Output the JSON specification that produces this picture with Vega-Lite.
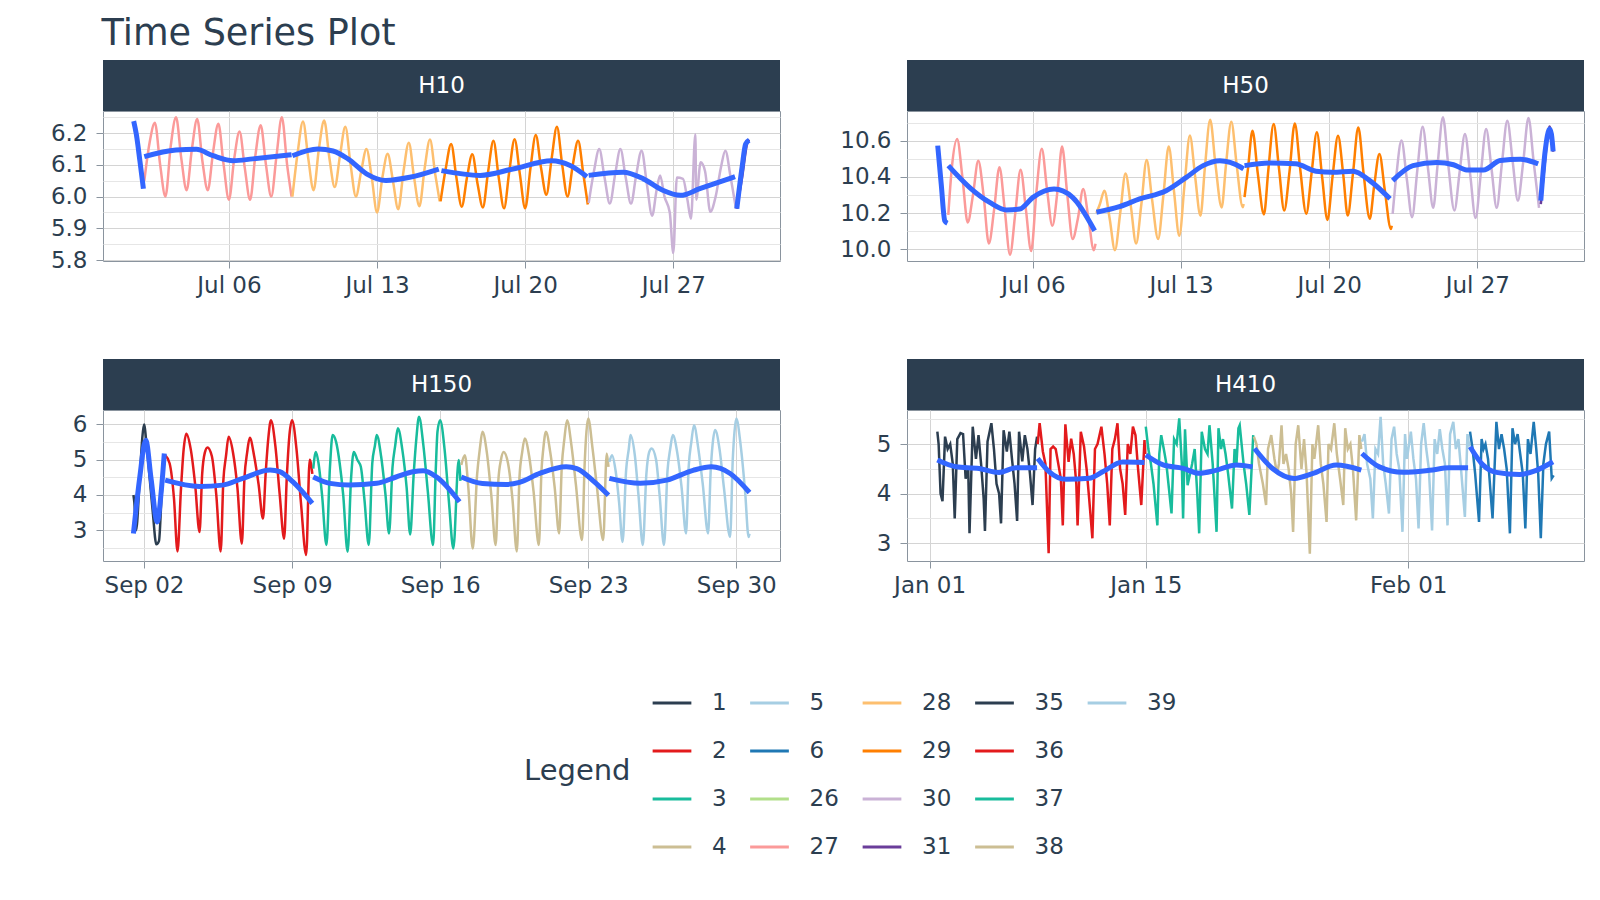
{
"$schema":"https://vega.github.io/schema/vega-lite/v6.json",
"padding":{"left":49,"top":16,"right":5,"bottom":5},
"title":{"text":"Time Series Plot","anchor":"start","fontSize":36.6,"fontWeight":"normal","color":"#2C3E50","dx":52,"offset":7},
"datasets":{
"d10":[
{"t":"2015-07-01T12:00","v":6.23,"g":"26"},{"t":"2015-07-01T18:00","v":6.13,"g":"26"},{"t":"2015-07-01T23:00","v":6.03,"g":"26"},
{"t":"2015-07-02T00:00","v":6.05,"g":"27"},{"t":"2015-07-02T06:00","v":6.17,"g":"27"},{"t":"2015-07-02T12:00","v":6.233,"g":"27"},{"t":"2015-07-02T18:00","v":6.10,"g":"27"},
{"t":"2015-07-03T00:00","v":6.00,"g":"27"},{"t":"2015-07-03T06:00","v":6.16,"g":"27"},{"t":"2015-07-03T12:00","v":6.25,"g":"27"},{"t":"2015-07-03T18:00","v":6.12,"g":"27"},
{"t":"2015-07-04T00:00","v":6.02,"g":"27"},{"t":"2015-07-04T06:00","v":6.15,"g":"27"},{"t":"2015-07-04T12:00","v":6.245,"g":"27"},{"t":"2015-07-04T18:00","v":6.11,"g":"27"},
{"t":"2015-07-05T00:00","v":6.02,"g":"27"},{"t":"2015-07-05T06:00","v":6.14,"g":"27"},{"t":"2015-07-05T12:00","v":6.23,"g":"27"},{"t":"2015-07-05T18:00","v":6.10,"g":"27"},
{"t":"2015-07-06T00:00","v":5.99,"g":"27"},{"t":"2015-07-06T06:00","v":6.12,"g":"27"},{"t":"2015-07-06T12:00","v":6.205,"g":"27"},{"t":"2015-07-06T18:00","v":6.09,"g":"27"},
{"t":"2015-07-07T00:00","v":5.99,"g":"27"},{"t":"2015-07-07T06:00","v":6.13,"g":"27"},{"t":"2015-07-07T12:00","v":6.225,"g":"27"},{"t":"2015-07-07T18:00","v":6.10,"g":"27"},
{"t":"2015-07-08T00:00","v":6.00,"g":"27"},{"t":"2015-07-08T06:00","v":6.13,"g":"27"},{"t":"2015-07-08T12:00","v":6.25,"g":"27"},{"t":"2015-07-08T18:00","v":6.10,"g":"27"},{"t":"2015-07-08T23:00","v":6.00,"g":"27"},
{"t":"2015-07-09T00:00","v":6.00,"g":"28"},{"t":"2015-07-09T06:00","v":6.14,"g":"28"},{"t":"2015-07-09T12:00","v":6.237,"g":"28"},{"t":"2015-07-09T18:00","v":6.12,"g":"28"},
{"t":"2015-07-10T00:00","v":6.02,"g":"28"},{"t":"2015-07-10T06:00","v":6.15,"g":"28"},{"t":"2015-07-10T12:00","v":6.24,"g":"28"},{"t":"2015-07-10T18:00","v":6.12,"g":"28"},
{"t":"2015-07-11T00:00","v":6.03,"g":"28"},{"t":"2015-07-11T06:00","v":6.13,"g":"28"},{"t":"2015-07-11T12:00","v":6.22,"g":"28"},{"t":"2015-07-11T18:00","v":6.10,"g":"28"},
{"t":"2015-07-12T00:00","v":6.00,"g":"28"},{"t":"2015-07-12T06:00","v":6.08,"g":"28"},{"t":"2015-07-12T12:00","v":6.15,"g":"28"},{"t":"2015-07-12T18:00","v":6.06,"g":"28"},
{"t":"2015-07-13T00:00","v":5.95,"g":"28"},{"t":"2015-07-13T06:00","v":6.06,"g":"28"},{"t":"2015-07-13T12:00","v":6.135,"g":"28"},{"t":"2015-07-13T18:00","v":6.05,"g":"28"},
{"t":"2015-07-14T00:00","v":5.96,"g":"28"},{"t":"2015-07-14T06:00","v":6.08,"g":"28"},{"t":"2015-07-14T12:00","v":6.17,"g":"28"},{"t":"2015-07-14T18:00","v":6.06,"g":"28"},
{"t":"2015-07-15T00:00","v":5.97,"g":"28"},{"t":"2015-07-15T06:00","v":6.09,"g":"28"},{"t":"2015-07-15T12:00","v":6.18,"g":"28"},{"t":"2015-07-15T18:00","v":6.07,"g":"28"},{"t":"2015-07-15T23:00","v":5.985,"g":"28"},
{"t":"2015-07-16T00:00","v":5.985,"g":"29"},{"t":"2015-07-16T06:00","v":6.09,"g":"29"},{"t":"2015-07-16T12:00","v":6.166,"g":"29"},{"t":"2015-07-16T18:00","v":6.06,"g":"29"},
{"t":"2015-07-17T00:00","v":5.968,"g":"29"},{"t":"2015-07-17T06:00","v":6.06,"g":"29"},{"t":"2015-07-17T12:00","v":6.134,"g":"29"},{"t":"2015-07-17T18:00","v":6.04,"g":"29"},
{"t":"2015-07-18T00:00","v":5.966,"g":"29"},{"t":"2015-07-18T06:00","v":6.08,"g":"29"},{"t":"2015-07-18T12:00","v":6.176,"g":"29"},{"t":"2015-07-18T18:00","v":6.06,"g":"29"},
{"t":"2015-07-19T00:00","v":5.963,"g":"29"},{"t":"2015-07-19T06:00","v":6.08,"g":"29"},{"t":"2015-07-19T12:00","v":6.181,"g":"29"},{"t":"2015-07-19T18:00","v":6.07,"g":"29"},
{"t":"2015-07-20T00:00","v":5.963,"g":"29"},{"t":"2015-07-20T06:00","v":6.09,"g":"29"},{"t":"2015-07-20T12:00","v":6.194,"g":"29"},{"t":"2015-07-20T18:00","v":6.09,"g":"29"},
{"t":"2015-07-21T00:00","v":6.006,"g":"29"},{"t":"2015-07-21T06:00","v":6.12,"g":"29"},{"t":"2015-07-21T12:00","v":6.22,"g":"29"},{"t":"2015-07-21T18:00","v":6.10,"g":"29"},
{"t":"2015-07-22T00:00","v":6.00,"g":"29"},{"t":"2015-07-22T06:00","v":6.10,"g":"29"},{"t":"2015-07-22T12:00","v":6.176,"g":"29"},{"t":"2015-07-22T18:00","v":6.07,"g":"29"},{"t":"2015-07-22T23:00","v":5.975,"g":"29"},
{"t":"2015-07-23T00:00","v":5.98,"g":"30"},{"t":"2015-07-23T06:00","v":6.08,"g":"30"},{"t":"2015-07-23T12:00","v":6.15,"g":"30"},{"t":"2015-07-23T18:00","v":6.06,"g":"30"},
{"t":"2015-07-24T00:00","v":5.978,"g":"30"},{"t":"2015-07-24T06:00","v":6.07,"g":"30"},{"t":"2015-07-24T12:00","v":6.15,"g":"30"},{"t":"2015-07-24T18:00","v":6.06,"g":"30"},
{"t":"2015-07-25T00:00","v":5.978,"g":"30"},{"t":"2015-07-25T06:00","v":6.07,"g":"30"},{"t":"2015-07-25T12:00","v":6.145,"g":"30"},{"t":"2015-07-25T18:00","v":6.04,"g":"30"},
{"t":"2015-07-26T00:00","v":5.94,"g":"30"},{"t":"2015-07-26T05:00","v":6.02,"g":"30"},{"t":"2015-07-26T09:00","v":6.067,"g":"30"},{"t":"2015-07-26T14:00","v":6.0,"g":"30"},{"t":"2015-07-26T20:00","v":5.95,"g":"30"},
{"t":"2015-07-27T00:00","v":5.822,"g":"30"},{"t":"2015-07-27T04:00","v":6.06,"g":"30"},{"t":"2015-07-27T11:00","v":6.056,"g":"30"},{"t":"2015-07-27T16:00","v":5.99,"g":"30"},{"t":"2015-07-27T20:00","v":5.93,"g":"30"},
{"t":"2015-07-28T01:00","v":6.197,"g":"30"},{"t":"2015-07-28T02:00","v":5.99,"g":"30"},{"t":"2015-07-28T07:00","v":6.108,"g":"30"},{"t":"2015-07-28T12:00","v":6.08,"g":"30"},{"t":"2015-07-28T18:00","v":5.952,"g":"30"},
{"t":"2015-07-29T00:00","v":6.0,"g":"30"},{"t":"2015-07-29T06:00","v":6.092,"g":"30"},{"t":"2015-07-29T11:00","v":6.145,"g":"30"},{"t":"2015-07-29T17:00","v":6.061,"g":"30"},{"t":"2015-07-29T23:00","v":5.962,"g":"30"},
{"t":"2015-07-30T00:00","v":5.962,"g":"31"},{"t":"2015-07-30T06:00","v":6.06,"g":"31"},{"t":"2015-07-30T12:00","v":6.17,"g":"31"},{"t":"2015-07-30T14:00","v":6.18,"g":"31"}
],
"s10":[
{"t":"2015-07-01T12:00","v":6.238,"g":"26"},{"t":"2015-07-01T15:00","v":6.196,"g":"26"},{"t":"2015-07-01T19:00","v":6.113,"g":"26"},{"t":"2015-07-01T23:00","v":6.025,"g":"26"},
{"t":"2015-07-02T00:00","v":6.126,"g":"27"},{"t":"2015-07-03T12:00","v":6.147,"g":"27"},{"t":"2015-07-04T11:00","v":6.149,"g":"27"},{"t":"2015-07-05T06:00","v":6.129,"g":"27"},{"t":"2015-07-06T05:00","v":6.113,"g":"27"},{"t":"2015-07-07T03:00","v":6.119,"g":"27"},{"t":"2015-07-08T23:00","v":6.132,"g":"27"},
{"t":"2015-07-09T00:00","v":6.129,"g":"28"},{"t":"2015-07-10T05:00","v":6.15,"g":"28"},{"t":"2015-07-10T22:00","v":6.144,"g":"28"},{"t":"2015-07-11T15:00","v":6.119,"g":"28"},{"t":"2015-07-12T12:00","v":6.072,"g":"28"},{"t":"2015-07-13T10:00","v":6.051,"g":"28"},{"t":"2015-07-14T13:00","v":6.061,"g":"28"},{"t":"2015-07-15T22:00","v":6.087,"g":"28"},
{"t":"2015-07-16T01:00","v":6.082,"g":"29"},{"t":"2015-07-17T21:00","v":6.067,"g":"29"},{"t":"2015-07-19T10:00","v":6.087,"g":"29"},{"t":"2015-07-21T06:00","v":6.113,"g":"29"},{"t":"2015-07-22T03:00","v":6.098,"g":"29"},{"t":"2015-07-22T22:00","v":6.063,"g":"29"},
{"t":"2015-07-23T00:00","v":6.067,"g":"30"},{"t":"2015-07-24T15:00","v":6.077,"g":"30"},{"t":"2015-07-25T14:00","v":6.056,"g":"30"},{"t":"2015-07-26T12:00","v":6.02,"g":"30"},{"t":"2015-07-27T08:00","v":6.004,"g":"30"},{"t":"2015-07-28T06:00","v":6.025,"g":"30"},{"t":"2015-07-29T22:00","v":6.063,"g":"30"},
{"t":"2015-07-30T00:00","v":5.962,"g":"31"},{"t":"2015-07-30T06:00","v":6.093,"g":"31"},{"t":"2015-07-30T10:00","v":6.166,"g":"31"},{"t":"2015-07-30T14:00","v":6.178,"g":"31"}
],
"d50":[
{"t":"2015-07-01T12:00","v":10.57,"g":"26"},{"t":"2015-07-01T16:00","v":10.37,"g":"26"},{"t":"2015-07-01T20:00","v":10.17,"g":"26"},{"t":"2015-07-01T23:00","v":10.15,"g":"26"},
{"t":"2015-07-02T00:00","v":10.19,"g":"27"},{"t":"2015-07-02T04:00","v":10.45,"g":"27"},{"t":"2015-07-02T10:00","v":10.611,"g":"27"},{"t":"2015-07-02T16:00","v":10.40,"g":"27"},{"t":"2015-07-02T22:00","v":10.148,"g":"27"},
{"t":"2015-07-03T04:00","v":10.30,"g":"27"},{"t":"2015-07-03T10:00","v":10.49,"g":"27"},{"t":"2015-07-03T16:00","v":10.30,"g":"27"},{"t":"2015-07-03T22:00","v":10.031,"g":"27"},
{"t":"2015-07-04T04:00","v":10.22,"g":"27"},{"t":"2015-07-04T10:00","v":10.454,"g":"27"},{"t":"2015-07-04T16:00","v":10.22,"g":"27"},{"t":"2015-07-04T22:00","v":9.969,"g":"27"},
{"t":"2015-07-05T04:00","v":10.20,"g":"27"},{"t":"2015-07-05T10:00","v":10.44,"g":"27"},{"t":"2015-07-05T16:00","v":10.22,"g":"27"},{"t":"2015-07-05T22:00","v":9.99,"g":"27"},
{"t":"2015-07-06T04:00","v":10.32,"g":"27"},{"t":"2015-07-06T10:00","v":10.556,"g":"27"},{"t":"2015-07-06T16:00","v":10.33,"g":"27"},{"t":"2015-07-06T22:00","v":10.13,"g":"27"},
{"t":"2015-07-07T04:00","v":10.33,"g":"27"},{"t":"2015-07-07T09:00","v":10.569,"g":"27"},{"t":"2015-07-07T15:00","v":10.30,"g":"27"},{"t":"2015-07-07T21:00","v":10.056,"g":"27"},
{"t":"2015-07-08T03:00","v":10.17,"g":"27"},{"t":"2015-07-08T09:00","v":10.333,"g":"27"},{"t":"2015-07-08T15:00","v":10.17,"g":"27"},{"t":"2015-07-08T21:00","v":9.994,"g":"27"},{"t":"2015-07-08T23:00","v":10.03,"g":"27"},
{"t":"2015-07-09T00:00","v":10.20,"g":"28"},{"t":"2015-07-09T04:00","v":10.25,"g":"28"},{"t":"2015-07-09T09:00","v":10.324,"g":"28"},{"t":"2015-07-09T15:00","v":10.17,"g":"28"},{"t":"2015-07-09T21:00","v":9.994,"g":"28"},
{"t":"2015-07-10T03:00","v":10.20,"g":"28"},{"t":"2015-07-10T09:00","v":10.42,"g":"28"},{"t":"2015-07-10T15:00","v":10.24,"g":"28"},{"t":"2015-07-10T21:00","v":10.031,"g":"28"},
{"t":"2015-07-11T03:00","v":10.25,"g":"28"},{"t":"2015-07-11T09:00","v":10.494,"g":"28"},{"t":"2015-07-11T15:00","v":10.28,"g":"28"},{"t":"2015-07-11T22:00","v":10.056,"g":"28"},
{"t":"2015-07-12T04:00","v":10.30,"g":"28"},{"t":"2015-07-12T10:00","v":10.569,"g":"28"},{"t":"2015-07-12T16:00","v":10.32,"g":"28"},{"t":"2015-07-12T22:00","v":10.074,"g":"28"},
{"t":"2015-07-13T04:00","v":10.36,"g":"28"},{"t":"2015-07-13T10:00","v":10.63,"g":"28"},{"t":"2015-07-13T16:00","v":10.40,"g":"28"},{"t":"2015-07-13T22:00","v":10.185,"g":"28"},
{"t":"2015-07-14T03:00","v":10.45,"g":"28"},{"t":"2015-07-14T09:00","v":10.717,"g":"28"},{"t":"2015-07-14T15:00","v":10.47,"g":"28"},{"t":"2015-07-14T22:00","v":10.231,"g":"28"},
{"t":"2015-07-15T03:00","v":10.47,"g":"28"},{"t":"2015-07-15T09:00","v":10.707,"g":"28"},{"t":"2015-07-15T15:00","v":10.47,"g":"28"},{"t":"2015-07-15T22:00","v":10.232,"g":"28"},{"t":"2015-07-15T23:00","v":10.25,"g":"28"},
{"t":"2015-07-16T00:00","v":10.288,"g":"29"},{"t":"2015-07-16T04:00","v":10.45,"g":"29"},{"t":"2015-07-16T09:00","v":10.657,"g":"29"},{"t":"2015-07-16T15:00","v":10.42,"g":"29"},{"t":"2015-07-16T22:00","v":10.192,"g":"29"},
{"t":"2015-07-17T03:00","v":10.44,"g":"29"},{"t":"2015-07-17T09:00","v":10.694,"g":"29"},{"t":"2015-07-17T15:00","v":10.45,"g":"29"},{"t":"2015-07-17T21:00","v":10.214,"g":"29"},
{"t":"2015-07-18T03:00","v":10.43,"g":"29"},{"t":"2015-07-18T09:00","v":10.697,"g":"29"},{"t":"2015-07-18T15:00","v":10.45,"g":"29"},{"t":"2015-07-18T22:00","v":10.196,"g":"29"},
{"t":"2015-07-19T04:00","v":10.42,"g":"29"},{"t":"2015-07-19T10:00","v":10.648,"g":"29"},{"t":"2015-07-19T16:00","v":10.40,"g":"29"},{"t":"2015-07-19T22:00","v":10.162,"g":"29"},
{"t":"2015-07-20T04:00","v":10.41,"g":"29"},{"t":"2015-07-20T10:00","v":10.629,"g":"29"},{"t":"2015-07-20T16:00","v":10.41,"g":"29"},{"t":"2015-07-20T21:00","v":10.186,"g":"29"},
{"t":"2015-07-21T03:00","v":10.42,"g":"29"},{"t":"2015-07-21T09:00","v":10.675,"g":"29"},{"t":"2015-07-21T15:00","v":10.42,"g":"29"},{"t":"2015-07-21T22:00","v":10.168,"g":"29"},
{"t":"2015-07-22T03:00","v":10.35,"g":"29"},{"t":"2015-07-22T09:00","v":10.528,"g":"29"},{"t":"2015-07-22T15:00","v":10.33,"g":"29"},{"t":"2015-07-22T22:00","v":10.112,"g":"29"},{"t":"2015-07-22T23:00","v":10.13,"g":"29"},
{"t":"2015-07-23T00:00","v":10.196,"g":"30"},{"t":"2015-07-23T04:00","v":10.40,"g":"30"},{"t":"2015-07-23T10:00","v":10.602,"g":"30"},{"t":"2015-07-23T16:00","v":10.39,"g":"30"},{"t":"2015-07-23T22:00","v":10.177,"g":"30"},
{"t":"2015-07-24T04:00","v":10.44,"g":"30"},{"t":"2015-07-24T10:00","v":10.679,"g":"30"},{"t":"2015-07-24T16:00","v":10.45,"g":"30"},{"t":"2015-07-24T22:00","v":10.229,"g":"30"},
{"t":"2015-07-25T03:00","v":10.47,"g":"30"},{"t":"2015-07-25T09:00","v":10.731,"g":"30"},{"t":"2015-07-25T15:00","v":10.47,"g":"30"},{"t":"2015-07-25T22:00","v":10.214,"g":"30"},
{"t":"2015-07-26T04:00","v":10.43,"g":"30"},{"t":"2015-07-26T10:00","v":10.639,"g":"30"},{"t":"2015-07-26T16:00","v":10.41,"g":"30"},{"t":"2015-07-26T22:00","v":10.173,"g":"30"},
{"t":"2015-07-27T04:00","v":10.42,"g":"30"},{"t":"2015-07-27T10:00","v":10.666,"g":"30"},{"t":"2015-07-27T16:00","v":10.45,"g":"30"},{"t":"2015-07-27T22:00","v":10.229,"g":"30"},
{"t":"2015-07-28T04:00","v":10.48,"g":"30"},{"t":"2015-07-28T10:00","v":10.712,"g":"30"},{"t":"2015-07-28T16:00","v":10.49,"g":"30"},{"t":"2015-07-28T22:00","v":10.269,"g":"30"},
{"t":"2015-07-29T04:00","v":10.48,"g":"30"},{"t":"2015-07-29T10:00","v":10.727,"g":"30"},{"t":"2015-07-29T16:00","v":10.48,"g":"30"},{"t":"2015-07-29T22:00","v":10.229,"g":"30"},
{"t":"2015-07-30T00:00","v":10.25,"g":"31"},{"t":"2015-07-30T04:00","v":10.45,"g":"31"},{"t":"2015-07-30T10:00","v":10.68,"g":"31"},{"t":"2015-07-30T14:00","v":10.54,"g":"31"}
],
"s50":[
{"t":"2015-07-01T12:00","v":10.574,"g":"26"},{"t":"2015-07-01T16:00","v":10.36,"g":"26"},{"t":"2015-07-01T20:00","v":10.157,"g":"26"},{"t":"2015-07-01T23:00","v":10.143,"g":"26"},
{"t":"2015-07-02T00:00","v":10.463,"g":"27"},{"t":"2015-07-03T00:00","v":10.343,"g":"27"},{"t":"2015-07-03T23:00","v":10.259,"g":"27"},{"t":"2015-07-04T18:00","v":10.217,"g":"27"},{"t":"2015-07-05T09:00","v":10.222,"g":"27"},{"t":"2015-07-06T00:00","v":10.287,"g":"27"},{"t":"2015-07-07T00:00","v":10.333,"g":"27"},{"t":"2015-07-07T21:00","v":10.287,"g":"27"},{"t":"2015-07-08T22:00","v":10.102,"g":"27"},
{"t":"2015-07-09T00:00","v":10.204,"g":"28"},{"t":"2015-07-10T02:00","v":10.235,"g":"28"},{"t":"2015-07-11T01:00","v":10.278,"g":"28"},{"t":"2015-07-12T07:00","v":10.324,"g":"28"},{"t":"2015-07-13T06:00","v":10.398,"g":"28"},{"t":"2015-07-14T01:00","v":10.463,"g":"28"},{"t":"2015-07-14T20:00","v":10.49,"g":"28"},{"t":"2015-07-15T20:00","v":10.454,"g":"28"},{"t":"2015-07-15T23:00","v":10.445,"g":"28"},
{"t":"2015-07-16T00:00","v":10.463,"g":"29"},{"t":"2015-07-17T04:00","v":10.478,"g":"29"},{"t":"2015-07-18T10:00","v":10.473,"g":"29"},{"t":"2015-07-19T09:00","v":10.432,"g":"29"},{"t":"2015-07-20T04:00","v":10.426,"g":"29"},{"t":"2015-07-21T03:00","v":10.432,"g":"29"},{"t":"2015-07-21T22:00","v":10.38,"g":"29"},{"t":"2015-07-22T21:00","v":10.279,"g":"29"},
{"t":"2015-07-23T00:00","v":10.38,"g":"30"},{"t":"2015-07-23T23:00","v":10.463,"g":"30"},{"t":"2015-07-25T02:00","v":10.481,"g":"30"},{"t":"2015-07-25T21:00","v":10.468,"g":"30"},{"t":"2015-07-26T12:00","v":10.439,"g":"30"},{"t":"2015-07-27T07:00","v":10.439,"g":"30"},{"t":"2015-07-28T02:00","v":10.491,"g":"30"},{"t":"2015-07-29T01:00","v":10.498,"g":"30"},{"t":"2015-07-29T21:00","v":10.473,"g":"30"},
{"t":"2015-07-30T00:00","v":10.269,"g":"31"},{"t":"2015-07-30T05:00","v":10.546,"g":"31"},{"t":"2015-07-30T10:00","v":10.666,"g":"31"},{"t":"2015-07-30T12:00","v":10.639,"g":"31"},{"t":"2015-07-30T14:00","v":10.542,"g":"31"}
],
"d150":[
{"t":"2015-09-01T12:00","v":4.0,"g":"35"},{"t":"2015-09-01T13:00","v":3.8,"g":"35"},{"t":"2015-09-01T15:00","v":3.0,"g":"35"},{"t":"2015-09-01T19:00","v":4.4,"g":"35"},{"t":"2015-09-01T22:00","v":5.6,"g":"35"},
{"t":"2015-09-02T00:00","v":6.0,"g":"35"},{"t":"2015-09-02T03:00","v":5.4,"g":"35"},{"t":"2015-09-02T06:00","v":4.6,"g":"35"},{"t":"2015-09-02T10:00","v":3.5,"g":"35"},{"t":"2015-09-02T14:00","v":2.6,"g":"35"},{"t":"2015-09-02T17:00","v":2.7,"g":"35"},{"t":"2015-09-02T20:00","v":4.0,"g":"35"},{"t":"2015-09-02T23:00","v":5.0,"g":"35"},
{"t":"2015-09-03T00:00","v":5.13,"g":"36"},{"t":"2015-09-03T05:00","v":4.9,"g":"36"},{"t":"2015-09-03T10:00","v":3.9,"g":"36"},{"t":"2015-09-03T14:00","v":2.4,"g":"36"},{"t":"2015-09-03T18:00","v":4.2,"g":"36"},{"t":"2015-09-03T21:00","v":5.3,"g":"36"},
{"t":"2015-09-04T00:00","v":5.74,"g":"36"},{"t":"2015-09-04T05:00","v":5.3,"g":"36"},{"t":"2015-09-04T10:00","v":4.3,"g":"36"},{"t":"2015-09-04T15:00","v":2.95,"g":"36"},{"t":"2015-09-04T18:00","v":4.6,"g":"36"},{"t":"2015-09-04T21:00","v":5.2,"g":"36"},
{"t":"2015-09-05T00:00","v":5.35,"g":"36"},{"t":"2015-09-05T05:00","v":5.1,"g":"36"},{"t":"2015-09-05T10:00","v":4.0,"g":"36"},{"t":"2015-09-05T15:00","v":2.4,"g":"36"},{"t":"2015-09-05T18:00","v":4.4,"g":"36"},{"t":"2015-09-05T21:00","v":5.1,"g":"36"},
{"t":"2015-09-06T00:00","v":5.65,"g":"36"},{"t":"2015-09-06T05:00","v":5.2,"g":"36"},{"t":"2015-09-06T10:00","v":4.2,"g":"36"},{"t":"2015-09-06T15:00","v":2.62,"g":"36"},{"t":"2015-09-06T18:00","v":4.5,"g":"36"},{"t":"2015-09-06T21:00","v":5.2,"g":"36"},
{"t":"2015-09-07T00:00","v":5.62,"g":"36"},{"t":"2015-09-07T05:00","v":5.1,"g":"36"},{"t":"2015-09-07T10:00","v":4.3,"g":"36"},{"t":"2015-09-07T15:00","v":3.33,"g":"36"},{"t":"2015-09-07T18:00","v":4.6,"g":"36"},{"t":"2015-09-07T21:00","v":5.6,"g":"36"},
{"t":"2015-09-08T00:00","v":6.12,"g":"36"},{"t":"2015-09-08T05:00","v":5.4,"g":"36"},{"t":"2015-09-08T10:00","v":4.0,"g":"36"},{"t":"2015-09-08T15:00","v":2.76,"g":"36"},{"t":"2015-09-08T18:00","v":4.5,"g":"36"},{"t":"2015-09-08T21:00","v":5.7,"g":"36"},
{"t":"2015-09-09T00:00","v":6.12,"g":"36"},{"t":"2015-09-09T05:00","v":5.3,"g":"36"},{"t":"2015-09-09T10:00","v":3.8,"g":"36"},{"t":"2015-09-09T16:00","v":2.3,"g":"36"},{"t":"2015-09-09T20:00","v":5.0,"g":"36"},{"t":"2015-09-09T23:00","v":4.6,"g":"36"},
{"t":"2015-09-10T00:00","v":4.75,"g":"37"},{"t":"2015-09-10T03:00","v":5.22,"g":"37"},{"t":"2015-09-10T06:00","v":4.9,"g":"37"},{"t":"2015-09-10T10:00","v":4.0,"g":"37"},{"t":"2015-09-10T15:00","v":2.58,"g":"37"},{"t":"2015-09-10T19:00","v":4.8,"g":"37"},{"t":"2015-09-10T22:00","v":5.7,"g":"37"},
{"t":"2015-09-11T02:00","v":5.5,"g":"37"},{"t":"2015-09-11T06:00","v":4.9,"g":"37"},{"t":"2015-09-11T10:00","v":4.0,"g":"37"},{"t":"2015-09-11T15:00","v":2.39,"g":"37"},{"t":"2015-09-11T19:00","v":4.5,"g":"37"},{"t":"2015-09-11T22:00","v":5.22,"g":"37"},
{"t":"2015-09-12T02:00","v":5.0,"g":"37"},{"t":"2015-09-12T06:00","v":4.8,"g":"37"},{"t":"2015-09-12T10:00","v":3.9,"g":"37"},{"t":"2015-09-12T15:00","v":2.58,"g":"37"},{"t":"2015-09-12T19:00","v":4.9,"g":"37"},{"t":"2015-09-12T22:00","v":5.4,"g":"37"},
{"t":"2015-09-13T00:00","v":5.7,"g":"37"},{"t":"2015-09-13T05:00","v":5.1,"g":"37"},{"t":"2015-09-13T10:00","v":4.0,"g":"37"},{"t":"2015-09-13T14:00","v":2.91,"g":"37"},{"t":"2015-09-13T18:00","v":4.8,"g":"37"},{"t":"2015-09-13T21:00","v":5.4,"g":"37"},
{"t":"2015-09-14T00:00","v":5.89,"g":"37"},{"t":"2015-09-14T05:00","v":5.3,"g":"37"},{"t":"2015-09-14T10:00","v":4.2,"g":"37"},{"t":"2015-09-14T14:00","v":2.88,"g":"37"},{"t":"2015-09-14T18:00","v":4.6,"g":"37"},{"t":"2015-09-14T21:00","v":5.6,"g":"37"},
{"t":"2015-09-15T00:00","v":6.22,"g":"37"},{"t":"2015-09-15T05:00","v":5.4,"g":"37"},{"t":"2015-09-15T10:00","v":4.1,"g":"37"},{"t":"2015-09-15T16:00","v":2.58,"g":"37"},{"t":"2015-09-15T19:00","v":4.7,"g":"37"},{"t":"2015-09-15T21:00","v":5.8,"g":"37"},
{"t":"2015-09-16T00:00","v":6.12,"g":"37"},{"t":"2015-09-16T05:00","v":5.3,"g":"37"},{"t":"2015-09-16T10:00","v":3.8,"g":"37"},{"t":"2015-09-16T15:00","v":2.48,"g":"37"},{"t":"2015-09-16T21:00","v":4.99,"g":"37"},{"t":"2015-09-16T23:00","v":4.4,"g":"37"},
{"t":"2015-09-17T00:00","v":4.85,"g":"38"},{"t":"2015-09-17T04:00","v":5.13,"g":"38"},{"t":"2015-09-17T08:00","v":4.2,"g":"38"},{"t":"2015-09-17T13:00","v":2.48,"g":"38"},{"t":"2015-09-17T18:00","v":4.6,"g":"38"},{"t":"2015-09-17T21:00","v":5.3,"g":"38"},
{"t":"2015-09-18T00:00","v":5.79,"g":"38"},{"t":"2015-09-18T05:00","v":5.2,"g":"38"},{"t":"2015-09-18T10:00","v":4.0,"g":"38"},{"t":"2015-09-18T15:00","v":2.58,"g":"38"},{"t":"2015-09-18T18:00","v":4.4,"g":"38"},{"t":"2015-09-18T21:00","v":5.0,"g":"38"},
{"t":"2015-09-19T00:00","v":5.22,"g":"38"},{"t":"2015-09-19T05:00","v":4.9,"g":"38"},{"t":"2015-09-19T10:00","v":3.9,"g":"38"},{"t":"2015-09-19T15:00","v":2.4,"g":"38"},{"t":"2015-09-19T18:00","v":4.5,"g":"38"},{"t":"2015-09-19T21:00","v":5.2,"g":"38"},
{"t":"2015-09-20T00:00","v":5.6,"g":"38"},{"t":"2015-09-20T05:00","v":5.1,"g":"38"},{"t":"2015-09-20T10:00","v":4.1,"g":"38"},{"t":"2015-09-20T16:00","v":2.58,"g":"38"},{"t":"2015-09-20T19:00","v":4.7,"g":"38"},{"t":"2015-09-20T21:00","v":5.3,"g":"38"},
{"t":"2015-09-21T00:00","v":5.79,"g":"38"},{"t":"2015-09-21T05:00","v":5.2,"g":"38"},{"t":"2015-09-21T10:00","v":4.2,"g":"38"},{"t":"2015-09-21T15:00","v":2.91,"g":"38"},{"t":"2015-09-21T18:00","v":4.8,"g":"38"},{"t":"2015-09-21T21:00","v":5.6,"g":"38"},
{"t":"2015-09-22T00:00","v":6.12,"g":"38"},{"t":"2015-09-22T05:00","v":5.4,"g":"38"},{"t":"2015-09-22T10:00","v":4.3,"g":"38"},{"t":"2015-09-22T17:00","v":2.72,"g":"38"},{"t":"2015-09-22T20:00","v":4.9,"g":"38"},{"t":"2015-09-22T22:00","v":5.8,"g":"38"},
{"t":"2015-09-23T00:00","v":6.17,"g":"38"},{"t":"2015-09-23T05:00","v":5.3,"g":"38"},{"t":"2015-09-23T10:00","v":4.2,"g":"38"},{"t":"2015-09-23T17:00","v":2.72,"g":"38"},{"t":"2015-09-23T21:00","v":5.18,"g":"38"},{"t":"2015-09-23T23:00","v":4.8,"g":"38"},
{"t":"2015-09-24T00:00","v":4.94,"g":"39"},{"t":"2015-09-24T03:00","v":5.13,"g":"39"},{"t":"2015-09-24T07:00","v":4.7,"g":"39"},{"t":"2015-09-24T11:00","v":3.8,"g":"39"},{"t":"2015-09-24T15:00","v":2.67,"g":"39"},{"t":"2015-09-24T19:00","v":4.7,"g":"39"},{"t":"2015-09-24T22:00","v":5.3,"g":"39"},
{"t":"2015-09-25T00:00","v":5.7,"g":"39"},{"t":"2015-09-25T05:00","v":5.1,"g":"39"},{"t":"2015-09-25T09:00","v":4.0,"g":"39"},{"t":"2015-09-25T14:00","v":2.58,"g":"39"},{"t":"2015-09-25T18:00","v":4.6,"g":"39"},{"t":"2015-09-25T21:00","v":5.2,"g":"39"},
{"t":"2015-09-26T00:00","v":5.32,"g":"39"},{"t":"2015-09-26T05:00","v":5.0,"g":"39"},{"t":"2015-09-26T09:00","v":4.0,"g":"39"},{"t":"2015-09-26T14:00","v":2.58,"g":"39"},{"t":"2015-09-26T18:00","v":4.7,"g":"39"},{"t":"2015-09-26T21:00","v":5.3,"g":"39"},
{"t":"2015-09-27T00:00","v":5.7,"g":"39"},{"t":"2015-09-27T05:00","v":5.2,"g":"39"},{"t":"2015-09-27T10:00","v":4.2,"g":"39"},{"t":"2015-09-27T15:00","v":2.91,"g":"39"},{"t":"2015-09-27T18:00","v":4.8,"g":"39"},{"t":"2015-09-27T21:00","v":5.5,"g":"39"},
{"t":"2015-09-28T00:00","v":5.98,"g":"39"},{"t":"2015-09-28T05:00","v":5.3,"g":"39"},{"t":"2015-09-28T10:00","v":4.3,"g":"39"},{"t":"2015-09-28T16:00","v":2.91,"g":"39"},{"t":"2015-09-28T19:00","v":4.7,"g":"39"},{"t":"2015-09-28T21:00","v":5.4,"g":"39"},
{"t":"2015-09-29T00:00","v":5.84,"g":"39"},{"t":"2015-09-29T05:00","v":5.3,"g":"39"},{"t":"2015-09-29T10:00","v":4.2,"g":"39"},{"t":"2015-09-29T17:00","v":2.81,"g":"39"},{"t":"2015-09-29T20:00","v":5.0,"g":"39"},{"t":"2015-09-29T22:00","v":5.8,"g":"39"},
{"t":"2015-09-30T00:00","v":6.17,"g":"39"},{"t":"2015-09-30T05:00","v":5.4,"g":"39"},{"t":"2015-09-30T10:00","v":4.1,"g":"39"},{"t":"2015-09-30T14:00","v":2.81,"g":"39"},{"t":"2015-09-30T15:00","v":2.9,"g":"39"}
],
"s150":[
{"t":"2015-09-01T12:00","v":2.906,"g":"35"},{"t":"2015-09-01T19:00","v":4.467,"g":"35"},{"t":"2015-09-02T02:00","v":5.555,"g":"35"},{"t":"2015-09-02T08:00","v":4.467,"g":"35"},{"t":"2015-09-02T15:00","v":3.237,"g":"35"},{"t":"2015-09-02T19:30","v":4.089,"g":"35"},{"t":"2015-09-02T23:00","v":5.177,"g":"35"},
{"t":"2015-09-03T00:00","v":4.42,"g":"36"},{"t":"2015-09-04T15:00","v":4.24,"g":"36"},{"t":"2015-09-05T17:00","v":4.28,"g":"36"},{"t":"2015-09-06T16:00","v":4.47,"g":"36"},{"t":"2015-09-07T23:00","v":4.71,"g":"36"},{"t":"2015-09-08T10:00","v":4.66,"g":"36"},{"t":"2015-09-09T01:00","v":4.37,"g":"36"},{"t":"2015-09-09T23:00","v":3.76,"g":"36"},
{"t":"2015-09-10T00:00","v":4.51,"g":"37"},{"t":"2015-09-10T19:00","v":4.33,"g":"37"},{"t":"2015-09-11T17:00","v":4.28,"g":"37"},{"t":"2015-09-13T00:00","v":4.33,"g":"37"},{"t":"2015-09-13T22:00","v":4.51,"g":"37"},{"t":"2015-09-14T17:00","v":4.66,"g":"37"},{"t":"2015-09-15T05:00","v":4.69,"g":"37"},{"t":"2015-09-15T20:00","v":4.51,"g":"37"},{"t":"2015-09-16T22:00","v":3.81,"g":"37"},
{"t":"2015-09-17T00:00","v":4.51,"g":"38"},{"t":"2015-09-18T00:00","v":4.325,"g":"38"},{"t":"2015-09-19T03:00","v":4.30,"g":"38"},{"t":"2015-09-19T18:00","v":4.36,"g":"38"},{"t":"2015-09-20T17:00","v":4.61,"g":"38"},{"t":"2015-09-21T23:00","v":4.80,"g":"38"},{"t":"2015-09-22T11:00","v":4.75,"g":"38"},{"t":"2015-09-23T07:00","v":4.37,"g":"38"},{"t":"2015-09-23T23:00","v":3.99,"g":"38"},
{"t":"2015-09-24T00:00","v":4.47,"g":"39"},{"t":"2015-09-25T11:00","v":4.33,"g":"39"},{"t":"2015-09-26T17:00","v":4.42,"g":"39"},{"t":"2015-09-27T23:00","v":4.70,"g":"39"},{"t":"2015-09-28T20:00","v":4.80,"g":"39"},{"t":"2015-09-29T17:00","v":4.61,"g":"39"},{"t":"2015-09-30T15:00","v":4.07,"g":"39"}
],
"d410":[
{"t":"2016-01-01T12:00","v":5.25,"g":"1"},{"t":"2016-01-01T14:00","v":5.0,"g":"1"},{"t":"2016-01-01T17:00","v":4.0,"g":"1"},{"t":"2016-01-01T20:00","v":3.85,"g":"1"},
{"t":"2016-01-02T00:00","v":5.15,"g":"1"},{"t":"2016-01-02T04:00","v":4.9,"g":"1"},{"t":"2016-01-02T08:00","v":5.0,"g":"1"},{"t":"2016-01-02T12:00","v":4.6,"g":"1"},{"t":"2016-01-02T15:00","v":3.5,"g":"1"},{"t":"2016-01-02T19:00","v":5.1,"g":"1"},
{"t":"2016-01-03T00:00","v":5.22,"g":"1"},{"t":"2016-01-03T04:00","v":5.2,"g":"1"},{"t":"2016-01-03T08:00","v":4.3,"g":"1"},{"t":"2016-01-03T12:00","v":4.5,"g":"1"},{"t":"2016-01-03T14:00","v":3.2,"g":"1"},{"t":"2016-01-03T19:00","v":5.35,"g":"1"},
{"t":"2016-01-04T00:00","v":4.7,"g":"1"},{"t":"2016-01-04T04:00","v":5.18,"g":"1"},{"t":"2016-01-04T08:00","v":4.6,"g":"1"},{"t":"2016-01-04T12:00","v":3.9,"g":"1"},{"t":"2016-01-04T14:00","v":3.25,"g":"1"},{"t":"2016-01-04T18:00","v":5.05,"g":"1"},
{"t":"2016-01-05T00:00","v":5.42,"g":"1"},{"t":"2016-01-05T04:00","v":4.9,"g":"1"},{"t":"2016-01-05T08:00","v":4.2,"g":"1"},{"t":"2016-01-05T12:00","v":4.0,"g":"1"},{"t":"2016-01-05T15:00","v":3.4,"g":"1"},{"t":"2016-01-05T19:00","v":5.28,"g":"1"},
{"t":"2016-01-06T00:00","v":4.85,"g":"1"},{"t":"2016-01-06T04:00","v":5.25,"g":"1"},{"t":"2016-01-06T08:00","v":4.7,"g":"1"},{"t":"2016-01-06T12:00","v":4.2,"g":"1"},{"t":"2016-01-06T16:00","v":3.45,"g":"1"},{"t":"2016-01-06T19:00","v":5.25,"g":"1"},
{"t":"2016-01-07T00:00","v":4.65,"g":"1"},{"t":"2016-01-07T04:00","v":5.18,"g":"1"},{"t":"2016-01-07T08:00","v":4.9,"g":"1"},{"t":"2016-01-07T12:00","v":4.4,"g":"1"},{"t":"2016-01-07T16:00","v":3.77,"g":"1"},{"t":"2016-01-07T20:00","v":4.9,"g":"1"},{"t":"2016-01-07T23:00","v":5.15,"g":"1"},
{"t":"2016-01-08T00:00","v":5.0,"g":"2"},{"t":"2016-01-08T03:00","v":5.42,"g":"2"},{"t":"2016-01-08T08:00","v":4.85,"g":"2"},{"t":"2016-01-08T12:00","v":4.6,"g":"2"},{"t":"2016-01-08T17:00","v":2.8,"g":"2"},{"t":"2016-01-08T20:00","v":4.9,"g":"2"},
{"t":"2016-01-09T00:00","v":4.95,"g":"2"},{"t":"2016-01-09T04:00","v":4.9,"g":"2"},{"t":"2016-01-09T08:00","v":4.6,"g":"2"},{"t":"2016-01-09T12:00","v":4.3,"g":"2"},{"t":"2016-01-09T15:00","v":3.36,"g":"2"},{"t":"2016-01-09T19:00","v":5.4,"g":"2"},
{"t":"2016-01-10T00:00","v":4.64,"g":"2"},{"t":"2016-01-10T04:00","v":5.11,"g":"2"},{"t":"2016-01-10T08:00","v":4.8,"g":"2"},{"t":"2016-01-10T12:00","v":4.2,"g":"2"},{"t":"2016-01-10T14:00","v":3.36,"g":"2"},{"t":"2016-01-10T19:00","v":5.25,"g":"2"},
{"t":"2016-01-11T00:00","v":4.95,"g":"2"},{"t":"2016-01-11T04:00","v":4.5,"g":"2"},{"t":"2016-01-11T08:00","v":3.9,"g":"2"},{"t":"2016-01-11T13:00","v":3.1,"g":"2"},{"t":"2016-01-11T17:00","v":4.9,"g":"2"},{"t":"2016-01-11T21:00","v":5.0,"g":"2"},
{"t":"2016-01-12T03:00","v":5.35,"g":"2"},{"t":"2016-01-12T08:00","v":4.78,"g":"2"},{"t":"2016-01-12T12:00","v":4.2,"g":"2"},{"t":"2016-01-12T16:00","v":3.36,"g":"2"},{"t":"2016-01-12T20:00","v":4.9,"g":"2"},
{"t":"2016-01-13T00:00","v":5.1,"g":"2"},{"t":"2016-01-13T04:00","v":5.42,"g":"2"},{"t":"2016-01-13T08:00","v":4.51,"g":"2"},{"t":"2016-01-13T12:00","v":4.2,"g":"2"},{"t":"2016-01-13T16:00","v":3.57,"g":"2"},{"t":"2016-01-13T20:00","v":5.0,"g":"2"},
{"t":"2016-01-14T00:00","v":4.8,"g":"2"},{"t":"2016-01-14T04:00","v":5.35,"g":"2"},{"t":"2016-01-14T08:00","v":5.18,"g":"2"},{"t":"2016-01-14T12:00","v":4.5,"g":"2"},{"t":"2016-01-14T17:00","v":3.77,"g":"2"},{"t":"2016-01-14T22:00","v":5.08,"g":"2"},{"t":"2016-01-14T23:00","v":4.8,"g":"2"},
{"t":"2016-01-15T00:00","v":5.35,"g":"3"},{"t":"2016-01-15T04:00","v":4.9,"g":"3"},{"t":"2016-01-15T08:00","v":4.6,"g":"3"},{"t":"2016-01-15T12:00","v":4.2,"g":"3"},{"t":"2016-01-15T18:00","v":3.36,"g":"3"},{"t":"2016-01-15T21:00","v":4.8,"g":"3"},
{"t":"2016-01-16T00:00","v":5.18,"g":"3"},{"t":"2016-01-16T04:00","v":4.9,"g":"3"},{"t":"2016-01-16T08:00","v":4.6,"g":"3"},{"t":"2016-01-16T12:00","v":4.1,"g":"3"},{"t":"2016-01-16T16:00","v":3.6,"g":"3"},{"t":"2016-01-16T20:00","v":5.1,"g":"3"},
{"t":"2016-01-17T00:00","v":5.0,"g":"3"},{"t":"2016-01-17T04:00","v":5.52,"g":"3"},{"t":"2016-01-17T08:00","v":4.6,"g":"3"},{"t":"2016-01-17T10:00","v":3.5,"g":"3"},{"t":"2016-01-17T13:00","v":5.3,"g":"3"},{"t":"2016-01-17T17:00","v":4.17,"g":"3"},
{"t":"2016-01-18T00:00","v":4.6,"g":"3"},{"t":"2016-01-18T04:00","v":4.9,"g":"3"},{"t":"2016-01-18T08:00","v":4.0,"g":"3"},{"t":"2016-01-18T11:00","v":3.2,"g":"3"},{"t":"2016-01-18T15:00","v":5.25,"g":"3"},{"t":"2016-01-18T20:00","v":4.9,"g":"3"},
{"t":"2016-01-19T00:00","v":4.8,"g":"3"},{"t":"2016-01-19T03:00","v":5.38,"g":"3"},{"t":"2016-01-19T08:00","v":4.6,"g":"3"},{"t":"2016-01-19T14:00","v":3.23,"g":"3"},{"t":"2016-01-19T17:00","v":5.32,"g":"3"},{"t":"2016-01-19T21:00","v":4.9,"g":"3"},
{"t":"2016-01-20T00:00","v":5.1,"g":"3"},{"t":"2016-01-20T04:00","v":4.8,"g":"3"},{"t":"2016-01-20T08:00","v":4.4,"g":"3"},{"t":"2016-01-20T14:00","v":3.7,"g":"3"},{"t":"2016-01-20T18:00","v":4.9,"g":"3"},{"t":"2016-01-20T21:00","v":4.6,"g":"3"},
{"t":"2016-01-21T00:00","v":5.32,"g":"3"},{"t":"2016-01-21T02:00","v":5.38,"g":"3"},{"t":"2016-01-21T08:00","v":4.6,"g":"3"},{"t":"2016-01-21T12:00","v":4.2,"g":"3"},{"t":"2016-01-21T17:00","v":3.57,"g":"3"},{"t":"2016-01-21T23:00","v":5.18,"g":"3"},
{"t":"2016-01-22T00:00","v":5.15,"g":"4"},{"t":"2016-01-22T04:00","v":5.0,"g":"4"},{"t":"2016-01-22T08:00","v":4.6,"g":"4"},{"t":"2016-01-22T14:00","v":4.2,"g":"4"},{"t":"2016-01-22T19:00","v":3.77,"g":"4"},{"t":"2016-01-22T22:00","v":4.9,"g":"4"},
{"t":"2016-01-23T03:00","v":5.18,"g":"4"},{"t":"2016-01-23T08:00","v":4.7,"g":"4"},{"t":"2016-01-23T12:00","v":4.4,"g":"4"},{"t":"2016-01-23T15:00","v":4.6,"g":"4"},{"t":"2016-01-23T19:00","v":5.38,"g":"4"},{"t":"2016-01-23T22:00","v":4.6,"g":"4"},
{"t":"2016-01-24T02:00","v":4.8,"g":"4"},{"t":"2016-01-24T06:00","v":4.5,"g":"4"},{"t":"2016-01-24T10:00","v":4.0,"g":"4"},{"t":"2016-01-24T13:00","v":3.23,"g":"4"},{"t":"2016-01-24T17:00","v":5.0,"g":"4"},{"t":"2016-01-24T21:00","v":5.38,"g":"4"},
{"t":"2016-01-25T02:00","v":4.5,"g":"4"},{"t":"2016-01-25T06:00","v":5.1,"g":"4"},{"t":"2016-01-25T10:00","v":4.4,"g":"4"},{"t":"2016-01-25T15:00","v":2.79,"g":"4"},{"t":"2016-01-25T19:00","v":5.0,"g":"4"},{"t":"2016-01-25T22:00","v":4.7,"g":"4"},
{"t":"2016-01-26T04:00","v":5.38,"g":"4"},{"t":"2016-01-26T08:00","v":4.6,"g":"4"},{"t":"2016-01-26T12:00","v":4.2,"g":"4"},{"t":"2016-01-26T17:00","v":3.43,"g":"4"},{"t":"2016-01-26T20:00","v":5.0,"g":"4"},
{"t":"2016-01-27T00:00","v":4.9,"g":"4"},{"t":"2016-01-27T05:00","v":5.42,"g":"4"},{"t":"2016-01-27T09:00","v":4.8,"g":"4"},{"t":"2016-01-27T14:00","v":4.3,"g":"4"},{"t":"2016-01-27T19:00","v":3.77,"g":"4"},{"t":"2016-01-27T22:00","v":5.32,"g":"4"},
{"t":"2016-01-28T02:00","v":4.9,"g":"4"},{"t":"2016-01-28T06:00","v":5.0,"g":"4"},{"t":"2016-01-28T10:00","v":4.5,"g":"4"},{"t":"2016-01-28T15:00","v":3.46,"g":"4"},{"t":"2016-01-28T20:00","v":5.18,"g":"4"},{"t":"2016-01-28T23:00","v":4.9,"g":"4"},
{"t":"2016-01-29T00:00","v":5.05,"g":"5"},{"t":"2016-01-29T04:00","v":5.2,"g":"5"},{"t":"2016-01-29T08:00","v":4.6,"g":"5"},{"t":"2016-01-29T13:00","v":4.3,"g":"5"},{"t":"2016-01-29T17:00","v":3.5,"g":"5"},{"t":"2016-01-29T21:00","v":4.9,"g":"5"},
{"t":"2016-01-30T01:00","v":4.8,"g":"5"},{"t":"2016-01-30T05:00","v":5.55,"g":"5"},{"t":"2016-01-30T09:00","v":4.6,"g":"5"},{"t":"2016-01-30T13:00","v":4.2,"g":"5"},{"t":"2016-01-30T18:00","v":3.6,"g":"5"},{"t":"2016-01-30T22:00","v":5.1,"g":"5"},
{"t":"2016-01-31T02:00","v":5.35,"g":"5"},{"t":"2016-01-31T06:00","v":4.8,"g":"5"},{"t":"2016-01-31T10:00","v":4.5,"g":"5"},{"t":"2016-01-31T15:00","v":3.23,"g":"5"},{"t":"2016-01-31T19:00","v":5.2,"g":"5"},{"t":"2016-01-31T22:00","v":4.7,"g":"5"},
{"t":"2016-02-01T04:00","v":5.25,"g":"5"},{"t":"2016-02-01T08:00","v":4.7,"g":"5"},{"t":"2016-02-01T12:00","v":4.3,"g":"5"},{"t":"2016-02-01T16:00","v":3.3,"g":"5"},{"t":"2016-02-01T20:00","v":5.0,"g":"5"},
{"t":"2016-02-02T00:00","v":5.42,"g":"5"},{"t":"2016-02-02T04:00","v":4.9,"g":"5"},{"t":"2016-02-02T08:00","v":4.5,"g":"5"},{"t":"2016-02-02T13:00","v":3.26,"g":"5"},{"t":"2016-02-02T17:00","v":5.1,"g":"5"},{"t":"2016-02-02T21:00","v":4.8,"g":"5"},
{"t":"2016-02-03T01:00","v":5.3,"g":"5"},{"t":"2016-02-03T05:00","v":4.9,"g":"5"},{"t":"2016-02-03T09:00","v":4.6,"g":"5"},{"t":"2016-02-03T13:00","v":3.36,"g":"5"},{"t":"2016-02-03T17:00","v":5.2,"g":"5"},{"t":"2016-02-03T22:00","v":5.45,"g":"5"},
{"t":"2016-02-04T02:00","v":4.9,"g":"5"},{"t":"2016-02-04T06:00","v":5.1,"g":"5"},{"t":"2016-02-04T10:00","v":4.5,"g":"5"},{"t":"2016-02-04T16:00","v":3.53,"g":"5"},{"t":"2016-02-04T20:00","v":5.2,"g":"5"},{"t":"2016-02-04T23:00","v":4.95,"g":"5"},
{"t":"2016-02-05T00:00","v":5.25,"g":"6"},{"t":"2016-02-05T04:00","v":4.9,"g":"6"},{"t":"2016-02-05T08:00","v":4.4,"g":"6"},{"t":"2016-02-05T14:00","v":3.43,"g":"6"},{"t":"2016-02-05T18:00","v":5.1,"g":"6"},{"t":"2016-02-05T21:00","v":4.9,"g":"6"},
{"t":"2016-02-06T00:00","v":5.0,"g":"6"},{"t":"2016-02-06T04:00","v":4.7,"g":"6"},{"t":"2016-02-06T11:00","v":3.5,"g":"6"},{"t":"2016-02-06T17:00","v":5.45,"g":"6"},{"t":"2016-02-06T21:00","v":4.9,"g":"6"},
{"t":"2016-02-07T01:00","v":5.2,"g":"6"},{"t":"2016-02-07T05:00","v":4.9,"g":"6"},{"t":"2016-02-07T09:00","v":4.5,"g":"6"},{"t":"2016-02-07T14:00","v":3.2,"g":"6"},{"t":"2016-02-07T18:00","v":5.32,"g":"6"},{"t":"2016-02-07T22:00","v":5.0,"g":"6"},
{"t":"2016-02-08T02:00","v":5.2,"g":"6"},{"t":"2016-02-08T06:00","v":4.8,"g":"6"},{"t":"2016-02-08T10:00","v":4.4,"g":"6"},{"t":"2016-02-08T14:00","v":3.3,"g":"6"},{"t":"2016-02-08T18:00","v":5.1,"g":"6"},{"t":"2016-02-08T22:00","v":4.8,"g":"6"},
{"t":"2016-02-09T03:00","v":5.45,"g":"6"},{"t":"2016-02-09T07:00","v":4.9,"g":"6"},{"t":"2016-02-09T10:00","v":4.4,"g":"6"},{"t":"2016-02-09T14:00","v":3.1,"g":"6"},{"t":"2016-02-09T18:00","v":4.6,"g":"6"},{"t":"2016-02-09T22:00","v":5.0,"g":"6"},
{"t":"2016-02-10T03:00","v":5.25,"g":"6"},{"t":"2016-02-10T07:00","v":4.31,"g":"6"},{"t":"2016-02-10T10:00","v":4.37,"g":"6"}
],
"s410":[
{"t":"2016-01-01T12:00","v":4.677,"g":"1"},{"t":"2016-01-02T17:00","v":4.542,"g":"1"},{"t":"2016-01-04T05:00","v":4.508,"g":"1"},{"t":"2016-01-05T12:00","v":4.428,"g":"1"},{"t":"2016-01-06T14:00","v":4.522,"g":"1"},{"t":"2016-01-07T23:00","v":4.522,"g":"1"},
{"t":"2016-01-08T00:00","v":4.71,"g":"2"},{"t":"2016-01-08T18:00","v":4.44,"g":"2"},{"t":"2016-01-09T20:00","v":4.29,"g":"2"},{"t":"2016-01-11T08:00","v":4.31,"g":"2"},{"t":"2016-01-12T05:00","v":4.44,"g":"2"},{"t":"2016-01-13T12:00","v":4.64,"g":"2"},{"t":"2016-01-14T22:00","v":4.63,"g":"2"},
{"t":"2016-01-15T00:00","v":4.78,"g":"3"},{"t":"2016-01-16T03:00","v":4.58,"g":"3"},{"t":"2016-01-17T10:00","v":4.51,"g":"3"},{"t":"2016-01-18T11:00","v":4.41,"g":"3"},{"t":"2016-01-19T13:00","v":4.47,"g":"3"},{"t":"2016-01-20T21:00","v":4.58,"g":"3"},{"t":"2016-01-21T22:00","v":4.54,"g":"3"},
{"t":"2016-01-22T01:00","v":4.912,"g":"4"},{"t":"2016-01-23T05:00","v":4.508,"g":"4"},{"t":"2016-01-24T15:00","v":4.306,"g":"4"},{"t":"2016-01-25T20:00","v":4.407,"g":"4"},{"t":"2016-01-27T08:00","v":4.576,"g":"4"},{"t":"2016-01-28T23:00","v":4.475,"g":"4"},
{"t":"2016-01-29T00:00","v":4.81,"g":"5"},{"t":"2016-01-30T03:00","v":4.54,"g":"5"},{"t":"2016-01-31T16:00","v":4.43,"g":"5"},{"t":"2016-02-02T09:00","v":4.47,"g":"5"},{"t":"2016-02-03T16:00","v":4.52,"g":"5"},{"t":"2016-02-04T21:00","v":4.52,"g":"5"},
{"t":"2016-02-05T00:00","v":4.946,"g":"6"},{"t":"2016-02-05T20:00","v":4.58,"g":"6"},{"t":"2016-02-06T17:00","v":4.43,"g":"6"},{"t":"2016-02-08T05:00","v":4.387,"g":"6"},{"t":"2016-02-09T07:00","v":4.47,"g":"6"},{"t":"2016-02-10T09:00","v":4.643,"g":"6"}
]
},
"vconcat":[
{"hconcat":[
{"vconcat":[
{"width":677,"height":51,"view":{"fill":"#2C3E50","stroke":null},"data":{"values":[{"label":"H10"}]},"mark":{"type":"text","color":"#FFFFFF","fontSize":23},"encoding":{"text":{"field":"label"}}},
{"width":677,"height":150,
"encoding":{
"x":{"field":"t","type":"temporal","title":null,"scale":{"domain":[{"year":2015,"month":6,"date":30,"hours":1,"minutes":10},{"year":2015,"month":8,"date":1,"hours":1}],"nice":false},"axis":{"values":[{"year":2015,"month":7,"date":6},{"year":2015,"month":7,"date":13},{"year":2015,"month":7,"date":20},{"year":2015,"month":7,"date":27}],"format":"%b %d"}},
"y":{"field":"v","type":"quantitative","title":null,"scale":{"domain":[5.797,6.27],"nice":false,"zero":false},"axis":{"values":[5.8,5.85,5.9,5.95,6.0,6.05,6.1,6.15,6.2,6.25],"minExtent":53,"labelExpr":"abs(datum.value*10-round(datum.value*10))<0.01 ? format(datum.value,'.1f') : ''","tickOpacity":{"condition":{"test":"abs(datum.value*10-round(datum.value*10))<0.01","value":1},"value":0},"gridColor":{"condition":{"test":"abs(datum.value*10-round(datum.value*10))<0.01","value":"#D4D4D4"},"value":"#E6E6E6"}}}
},
"layer":[
{"data":{"name":"d10"},"mark":{"type":"line","strokeWidth":2.5,"interpolate":"monotone"},"encoding":{"color":{"field":"g","type":"nominal","scale":{"domain":["1","2","3","4","5","6","26","27","28","29","30","31","35","36","37","38","39","x1","x2","x3"]},"legend":{"title":"Legend","orient":"none","legendX":421,"legendY":622,"columns":5,"labelExpr":"datum.label[0]=='x' ? '' : datum.label"}}}},
{"data":{"name":"s10"},"mark":{"type":"line","strokeWidth":5,"color":"#3366FF","interpolate":"monotone"},"encoding":{"detail":{"field":"g","type":"nominal"}}}
]}
],"spacing":0,"bounds":"flush"},
{"vconcat":[
{"width":677,"height":51,"view":{"fill":"#2C3E50","stroke":null},"data":{"values":[{"label":"H50"}]},"mark":{"type":"text","color":"#FFFFFF","fontSize":23},"encoding":{"text":{"field":"label"}}},
{"width":677,"height":150,
"encoding":{
"x":{"field":"t","type":"temporal","title":null,"scale":{"domain":[{"year":2015,"month":6,"date":30,"hours":1,"minutes":10},{"year":2015,"month":8,"date":1,"hours":1}],"nice":false},"axis":{"values":[{"year":2015,"month":7,"date":6},{"year":2015,"month":7,"date":13},{"year":2015,"month":7,"date":20},{"year":2015,"month":7,"date":27}],"format":"%b %d"}},
"y":{"field":"v","type":"quantitative","title":null,"scale":{"domain":[9.934,10.766],"nice":false,"zero":false},"axis":{"values":[10.0,10.1,10.2,10.3,10.4,10.5,10.6,10.7],"minExtent":68,"labelExpr":"abs(datum.value*5-round(datum.value*5))<0.01 ? format(datum.value,'.1f') : ''","tickOpacity":{"condition":{"test":"abs(datum.value*5-round(datum.value*5))<0.01","value":1},"value":0},"gridColor":{"condition":{"test":"abs(datum.value*5-round(datum.value*5))<0.01","value":"#D4D4D4"},"value":"#E6E6E6"}}}
},
"layer":[
{"data":{"name":"d50"},"mark":{"type":"line","strokeWidth":2.5,"interpolate":"monotone"},"encoding":{"color":{"field":"g","type":"nominal","scale":{"domain":["1","2","3","4","5","6","26","27","28","29","30","31","35","36","37","38","39","x1","x2","x3"]},"legend":{"title":"Legend","orient":"none","legendX":421,"legendY":622,"columns":5,"labelExpr":"datum.label[0]=='x' ? '' : datum.label"}}}},
{"data":{"name":"s50"},"mark":{"type":"line","strokeWidth":5,"color":"#3366FF","interpolate":"monotone"},"encoding":{"detail":{"field":"g","type":"nominal"}}}
]}
],"spacing":0,"bounds":"flush"}
],"spacing":57,"resolve":{"scale":{"x":"independent","y":"independent","color":"shared"}}},
{"hconcat":[
{"vconcat":[
{"width":677,"height":51,"view":{"fill":"#2C3E50","stroke":null},"data":{"values":[{"label":"H150"}]},"mark":{"type":"text","color":"#FFFFFF","fontSize":23},"encoding":{"text":{"field":"label"}}},
{"width":677,"height":151,
"encoding":{
"x":{"field":"t","type":"temporal","title":null,"scale":{"domain":[{"year":2015,"month":8,"date":31,"hours":1,"minutes":28},{"year":2015,"month":10,"date":2,"hours":1,"minutes":36}],"nice":false},"axis":{"values":[{"year":2015,"month":9,"date":2},{"year":2015,"month":9,"date":9},{"year":2015,"month":9,"date":16},{"year":2015,"month":9,"date":23},{"year":2015,"month":9,"date":30}],"format":"%b %d"}},
"y":{"field":"v","type":"quantitative","title":null,"scale":{"domain":[2.128,6.41],"nice":false,"zero":false},"axis":{"values":[2.5,3,3.5,4,4.5,5,5.5,6],"minExtent":53,"labelExpr":"abs(datum.value-round(datum.value))<0.01 ? format(datum.value,'d') : ''","tickOpacity":{"condition":{"test":"abs(datum.value-round(datum.value))<0.01","value":1},"value":0},"gridColor":{"condition":{"test":"abs(datum.value-round(datum.value))<0.01","value":"#D4D4D4"},"value":"#E6E6E6"}}}
},
"layer":[
{"data":{"name":"d150"},"mark":{"type":"line","strokeWidth":2.5,"interpolate":"monotone"},"encoding":{"color":{"field":"g","type":"nominal","scale":{"domain":["1","2","3","4","5","6","26","27","28","29","30","31","35","36","37","38","39","x1","x2","x3"]},"legend":{"title":"Legend","orient":"none","legendX":421,"legendY":622,"columns":5,"labelExpr":"datum.label[0]=='x' ? '' : datum.label"}}}},
{"data":{"name":"s150"},"mark":{"type":"line","strokeWidth":5,"color":"#3366FF","interpolate":"monotone"},"encoding":{"detail":{"field":"g","type":"nominal"}}}
]}
],"spacing":0,"bounds":"flush"},
{"vconcat":[
{"width":677,"height":51,"view":{"fill":"#2C3E50","stroke":null},"data":{"values":[{"label":"H410"}]},"mark":{"type":"text","color":"#FFFFFF","fontSize":23},"encoding":{"text":{"field":"label"}}},
{"width":677,"height":151,
"encoding":{
"x":{"field":"t","type":"temporal","title":null,"scale":{"domain":[{"year":2015,"month":12,"date":30,"hours":12,"minutes":50},{"year":2016,"month":2,"date":12,"hours":9,"minutes":10}],"nice":false},"axis":{"values":[{"year":2016,"month":1,"date":1},{"year":2016,"month":1,"date":15},{"year":2016,"month":2,"date":1}],"format":"%b %d"}},
"y":{"field":"v","type":"quantitative","title":null,"scale":{"domain":[2.642,5.687],"nice":false,"zero":false},"axis":{"values":[3,3.5,4,4.5,5,5.5],"minExtent":68,"labelExpr":"abs(datum.value-round(datum.value))<0.01 ? format(datum.value,'d') : ''","tickOpacity":{"condition":{"test":"abs(datum.value-round(datum.value))<0.01","value":1},"value":0},"gridColor":{"condition":{"test":"abs(datum.value-round(datum.value))<0.01","value":"#D4D4D4"},"value":"#E6E6E6"}}}
},
"layer":[
{"data":{"name":"d410"},"mark":{"type":"line","strokeWidth":2.5},"encoding":{"color":{"field":"g","type":"nominal","scale":{"domain":["1","2","3","4","5","6","26","27","28","29","30","31","35","36","37","38","39","x1","x2","x3"]},"legend":{"title":"Legend","orient":"none","legendX":421,"legendY":622,"columns":5,"labelExpr":"datum.label[0]=='x' ? '' : datum.label"}}}},
{"data":{"name":"s410"},"mark":{"type":"line","strokeWidth":5,"color":"#3366FF","interpolate":"monotone"},"encoding":{"detail":{"field":"g","type":"nominal"}}}
]}
],"spacing":0,"bounds":"flush"}
],"spacing":57,"resolve":{"scale":{"x":"independent","y":"independent","color":"shared"}}}
],
"spacing":61,
"resolve":{"scale":{"x":"independent","y":"independent","color":"shared"}},
"config":{
"font":"DejaVu Sans",
"view":{"stroke":"#8A949E","strokeWidth":1},
"axis":{"labelFontSize":23,"labelColor":"#2C3E50","tickColor":"#8A949E","tickSize":7,"domain":false,"gridColor":"#D4D4D4","gridWidth":1,"labelOverlap":false,"labelFlush":false},
"axisX":{"labelPadding":6},
"axisY":{"labelPadding":9},
"range":{"category":["#2C3E50","#E31A1C","#18BC9C","#CCBE93","#A6CEE3","#1F78B4","#B2DF8A","#FB9A99","#FDBF6F","#FF7F00","#CAB2D6","#6A3D9A","#2C3E50","#E31A1C","#18BC9C","#CCBE93","#A6CEE3","rgba(0,0,0,0)","rgba(0,0,0,0)","rgba(0,0,0,0)"]},
"legend":{"symbolType":"stroke","symbolSize":1500,"symbolStrokeWidth":3,"labelFontSize":23,"labelColor":"#2C3E50","titleFontSize":29,"titleFontWeight":"normal","titleColor":"#2C3E50","titleOrient":"left","titleAnchor":"middle","titleBaseline":"middle","titlePadding":20,"columnPadding":16.5,"rowPadding":15,"labelOffset":19,"padding":0}
}
}
